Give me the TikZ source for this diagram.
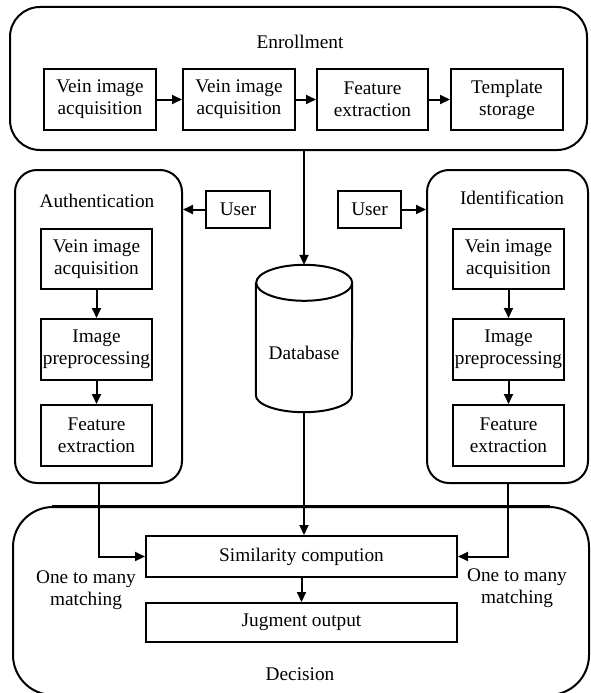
\documentclass[tikz,border=0pt]{standalone}
\usepackage{fontspec}
\setmainfont{Liberation Serif}
\usetikzlibrary{arrows.meta}

\begin{document}
\begin{tikzpicture}[x=1pt,y=-1pt,
	font=\fontsize{19.3}{22}\selectfont,
	every node/.style={inner sep=0pt, align=center},
	box/.style={draw, line width=2pt, minimum width=111pt, minimum height=61pt},
	group/.style={draw, line width=2pt, rounded corners=#1},
	arr/.style={-{Triangle[length=10pt,width=9pt]}, line width=2pt}]
	\useasboundingbox (0,0) rectangle (590,693);

	\node (enroll) [group=30pt, minimum width=577pt, minimum height=143pt] at (298.5,78.5) {};
	\node (auth) [group=22pt, minimum width=167pt, minimum height=313pt] at (98.5,326.5) {};
	\node (ident) [group=22pt, minimum width=161pt, minimum height=313pt] at (507.5,326.5) {};
	\node (decide) [group=40pt, minimum width=576pt, minimum height=188pt] at (301,601) {};
	\draw [line width=3pt] ([xshift=40pt]decide.north west) -- ([xshift=-40pt]decide.north east);

	\node (enrolltxt) at (300,42) {Enrollment};
	\node (authtxt) at (97,201) {Authentication};
	\node (identtxt) at (512,198) {Identification};
	\node (decidetxt) at (300,674) {Decision};

	\node (e1) [box, minimum width=112pt] at (100,99.5) {Vein image\\acquisition};
	\node (e2) [box, minimum width=112pt] at (239,99.5) {Vein image\\acquisition};
	\node (e3) [box] at (372.5,99.5) {Feature\\extraction};
	\node (e4) [box, minimum width=112pt] at (507,99.5) {Template\\storage};

	\node (userL) [box, minimum width=64pt, minimum height=37pt] at (238,209.5) {User};
	\node (userR) [box, minimum width=63pt, minimum height=37pt] at (369.5,209.5) {User};

	\node (a1) [box, minimum height=60pt] at (96.5,259) {Vein image\\acquisition};
	\node (a2) [box] at (96.5,349.5) {Image\\preprocessing};
	\node (a3) [box] at (96.5,435.5) {Feature\\extraction};
	\node (i1) [box, minimum height=60pt] at (508.5,259) {Vein image\\acquisition};
	\node (i2) [box] at (508.5,349.5) {Image\\preprocessing};
	\node (i3) [box] at (508.5,435.5) {Feature\\extraction};

	\node (db) [minimum width=96pt, minimum height=147pt] at (304,338.5) {};
	\node (dbtxt) at (304,353) {Database};
	\draw [line width=2pt] ([yshift=-18pt]db.north west) -- ([yshift=17pt]db.south west)
		arc [start angle=180, end angle=360, x radius=48pt, y radius=17pt]
		-- ([yshift=-18pt]db.north east)
		arc [start angle=0, end angle=180, x radius=48pt, y radius=18pt]
		arc [start angle=180, end angle=360, x radius=48pt, y radius=18pt];

	\node (sim) [box, minimum width=311pt, minimum height=41pt] at (301.5,556.5) {Similarity compution};
	\node (jug) [box, minimum width=311pt, minimum height=39pt] at (301.5,622.5) {Jugment output};

	\node (matchL) at (86,590) {One to many\\matching};
	\node (matchR) at (517,588) {One to many\\matching};

	\draw [arr] (e1) -- (e2);
	\draw [arr] (e2) -- (e3);
	\draw [arr] (e3) -- (e4);
	\draw [arr] (enroll.south -| db.north) -- (db.north);
	\draw [arr] (userL) -- (userL -| auth.east);
	\draw [arr] (userR) -- (userR -| ident.west);
	\draw [arr] (a1) -- (a2);
	\draw [arr] (a2) -- (a3);
	\draw [arr] (i1) -- (i2);
	\draw [arr] (i2) -- (i3);
	\draw [arr] (db.south) -- (db.south |- sim.north);
	\draw [arr] (auth.south) |- (sim.west);
	\draw [arr] (ident.south) |- (sim.east);
	\draw [arr] (sim) -- (jug);
\end{tikzpicture}
\end{document}
